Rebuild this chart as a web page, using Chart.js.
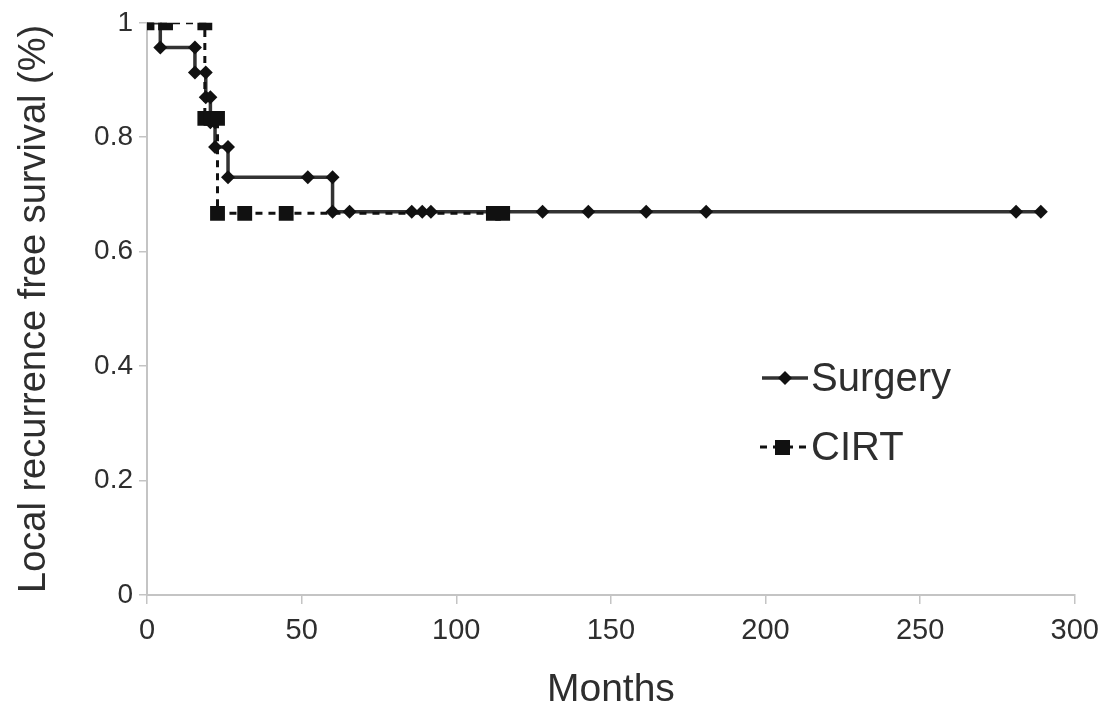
<!DOCTYPE html>
<html>
<head>
<meta charset="utf-8">
<script src="https://cdn.jsdelivr.net/npm/chart.js@4/dist/chart.umd.min.js"></script>
<style>
  body { margin: 0; background: #fff; }
  #wrap { width: 1109px; height: 718px; }
</style>
</head>
<body>
<div id="wrap"><canvas id="km"></canvas></div>
<script>
// Kaplan-Meier curves
const surgeryMonths = [0, 4.3, 15.5, 15.5, 19, 19, 20.5, 20.5, 22, 22, 26.2, 26.2, 52, 60, 60, 65.5, 85.6, 89, 91.8, 127.9, 142.7, 161.4, 180.8, 281, 289];
const surgerySurv   = [1, 0.957, 0.957, 0.913, 0.913, 0.87, 0.87, 0.826, 0.826, 0.783, 0.783, 0.73, 0.73, 0.73, 0.67, 0.67, 0.67, 0.67, 0.67, 0.67, 0.67, 0.67, 0.67, 0.67, 0.67];

const cirtMonths = [0, 6, 18.7, 18.7, 20.7, 22.8, 22.8, 31.6, 45, 112, 115];
const cirtSurv   = [1, 1, 1, 0.833, 0.833, 0.833, 0.667, 0.667, 0.667, 0.667, 0.667];

const xTicks = [0, 50, 100, 150, 200, 250, 300];
const yTicks = [0, 0.2, 0.4, 0.6, 0.8, 1];

const FONT = '"Liberation Sans", Arial, sans-serif';
const TXT = '#2e2e2e';
const AXIS = '#c4c4c4';

function pts(xs, ys) {
    return xs.map((x, i) => ({ x: x, y: ys[i] }));
}

// legend sits inside the plot, so draw it by hand
const insideLegend = {
    id: 'insideLegend',
    afterDraw(chart) {
        const ctx = chart.ctx;
        ctx.save();
        ctx.font = '40px ' + FONT;
        ctx.textBaseline = 'middle';

        // Surgery
        ctx.strokeStyle = '#333';
        ctx.lineWidth = 3.5;
        ctx.setLineDash([]);
        ctx.beginPath();
        ctx.moveTo(762, 378); ctx.lineTo(808, 378);
        ctx.stroke();
        ctx.fillStyle = '#111';
        ctx.beginPath();
        ctx.moveTo(785, 371); ctx.lineTo(792, 378); ctx.lineTo(785, 385); ctx.lineTo(778, 378);
        ctx.closePath(); ctx.fill();
        ctx.fillStyle = TXT;
        ctx.fillText('Surgery', 811, 380);

        // CIRT
        ctx.strokeStyle = '#111';
        ctx.lineWidth = 3;
        ctx.setLineDash([7, 6]);
        ctx.beginPath();
        ctx.moveTo(760, 447); ctx.lineTo(806, 447);
        ctx.stroke();
        ctx.setLineDash([]);
        ctx.fillStyle = '#111';
        ctx.fillRect(775, 440, 15, 15);
        ctx.fillStyle = TXT;
        ctx.fillText('CIRT', 811, 449);
        ctx.restore();
    }
};

const chart = new Chart(document.getElementById('km'), {
    type: 'scatter',
    data: {
        datasets: [
            {
                label: 'CIRT',
                data: pts(cirtMonths, cirtSurv),
                showLine: true,
                stepped: true,
                borderColor: '#111',
                borderWidth: 3,
                borderDash: [7, 6],
                pointStyle: 'rect',
                pointRadius: 10.5,
                pointBackgroundColor: '#111',
                pointBorderColor: '#111',
                pointBorderWidth: 0
            },
            {
                label: 'Surgery',
                data: pts(surgeryMonths, surgerySurv),
                showLine: true,
                stepped: true,
                borderColor: '#333',
                borderWidth: 3.5,
                pointStyle: 'rectRot',
                pointRadius: 7,
                pointBackgroundColor: '#111',
                pointBorderColor: '#111',
                pointBorderWidth: 0
            }
        ]
    },
    options: {
        responsive: true,
        maintainAspectRatio: false,
        animation: false,
        layout: { padding: { top: 20, right: 33, left: 0, bottom: 0 } },
        plugins: {
            legend: { display: false },
            tooltip: { enabled: false }
        },
        scales: {
            x: {
                type: 'linear',
                min: 0,
                max: 300,
                afterBuildTicks: (s) => { s.ticks = xTicks.map(v => ({ value: v })); },
                afterFit: (s) => { s.height = 123; },
                border: { color: AXIS, width: 2 },
                grid: { drawOnChartArea: false, color: AXIS, tickLength: 9, lineWidth: 1.5 },
                ticks: { color: TXT, font: { family: FONT, size: 29 }, padding: 10 },
                title: { display: true, text: 'Months', color: TXT, font: { family: FONT, size: 39 }, padding: { top: 0, bottom: 4 } }
            },
            y: {
                min: 0,
                max: 1,
                afterBuildTicks: (s) => { s.ticks = yTicks.map(v => ({ value: v })); },
                afterFit: (s) => { s.width = 147; },
                border: { color: AXIS, width: 2 },
                grid: { drawOnChartArea: false, color: AXIS, tickLength: 8, lineWidth: 1.5 },
                ticks: { color: TXT, font: { family: FONT, size: 28 }, padding: 6, callback: (v) => String(v) },
                title: { display: true, text: 'Local recurrence free survival (%)', color: TXT, font: { family: FONT, size: 38 }, padding: { top: 12, bottom: 0 } }
            }
        }
    },
    plugins: [insideLegend]
});
</script>
</body>
</html>
